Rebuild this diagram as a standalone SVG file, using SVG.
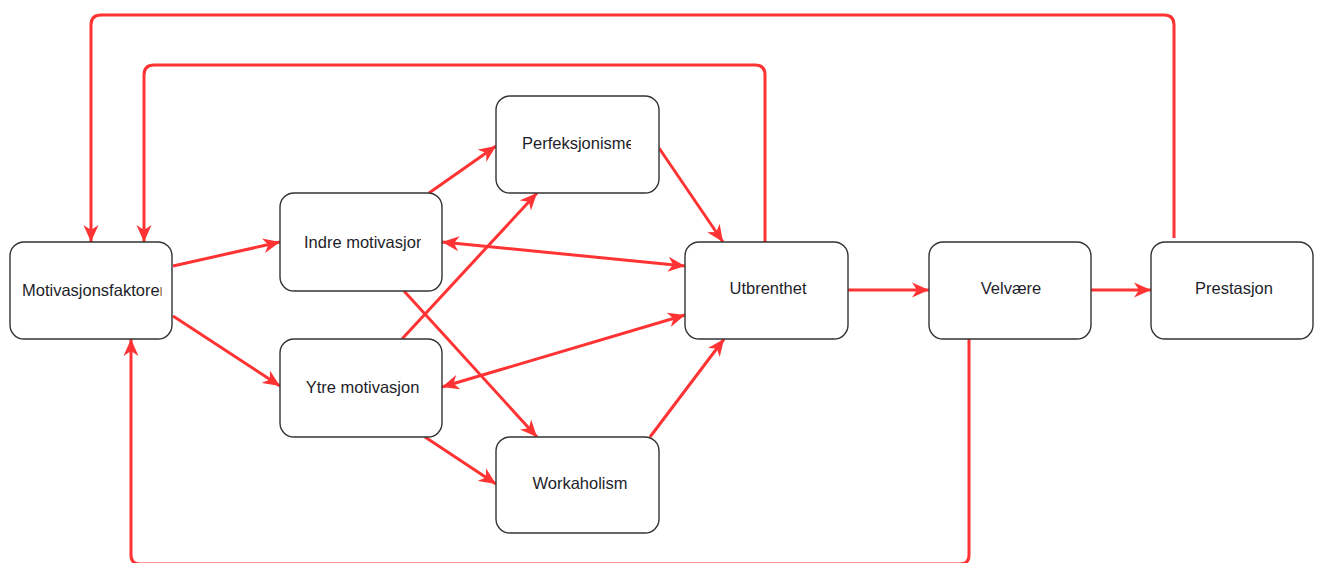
<svg xmlns="http://www.w3.org/2000/svg" width="1317" height="563" viewBox="0 0 1317 563">
  <style>
    .box { fill: #ffffff; stroke: #333333; stroke-width: 1.4; }
    .lbl { font-family: "Liberation Sans", Arial, sans-serif; font-size: 16.5px; fill: #1e1e2a; }
    .c { text-anchor: middle; }
    .edge { fill: none; stroke: #FF3333; stroke-width: 3; }
    .ea { marker-end: url(#ah); }
    .eb { marker-start: url(#ah); marker-end: url(#ah); }
  </style>
  <defs>
    <marker id="ah" markerUnits="userSpaceOnUse" markerWidth="18" markerHeight="16" refX="17" refY="8" orient="auto-start-reverse" viewBox="0 0 18 16">
      <path d="M17,8 L0,0.5 L5,8 L0,15.5 Z" fill="#FF3333"/>
    </marker>
    <clipPath id="clipMotiv"><rect x="10" y="242" width="151.5" height="97"/></clipPath>
    <clipPath id="clipIndre"><rect x="280" y="193" width="141" height="98"/></clipPath>
    <clipPath id="clipPerf"><rect x="496" y="96" width="135" height="97"/></clipPath>
  </defs>

  <rect width="1317" height="563" fill="#ffffff"/>

  <g id="connectors">
    <path class="edge" d="M1174,238 V25 Q1174,15 1164,15 H101 Q91,15 91,25 V242" marker-end="url(#ah)"/>
    <path class="edge" d="M765,242 V75 Q765,65 755,65 H154 Q144,65 144,75 V242" marker-end="url(#ah)"/>
    <path class="edge" d="M969,339 V555 Q969,564 960,564 H140 Q131,564 131,555 V339" marker-end="url(#ah)"/>
    <path class="edge ea" d="M173,266 L280,242"/>
    <path class="edge ea" d="M173,316 L280,386"/>
    <path class="edge ea" d="M429,193 L496,146"/>
    <path class="edge ea" d="M402,339 L537,193"/>
    <path class="edge eb" d="M442,242 L685,266"/>
    <path class="edge eb" d="M442,387 L685,315"/>
    <path class="edge ea" d="M404,291 L537,437"/>
    <path class="edge ea" d="M425,437 L496,484"/>
    <path class="edge ea" d="M659,148 L723,242"/>
    <path class="edge ea" d="M650,437 L724,339"/>
    <path class="edge ea" d="M848,290 L929,290"/>
    <path class="edge ea" d="M1091,290 L1151,290"/>
  </g>

  <g id="node-motivasjonsfaktorer">
    <rect class="box" x="10" y="242" width="162" height="97" rx="14"/>
    <text class="lbl" x="22" y="296" clip-path="url(#clipMotiv)">Motivasjonsfaktorer</text>
  </g>
  <g id="node-indre">
    <rect class="box" x="280" y="193" width="162" height="98" rx="14"/>
    <text class="lbl" x="304" y="248" clip-path="url(#clipIndre)">Indre motivasjon</text>
  </g>
  <g id="node-perfeksjonisme">
    <rect class="box" x="496" y="96" width="163" height="97" rx="14"/>
    <text class="lbl" x="522" y="149" clip-path="url(#clipPerf)">Perfeksjonisme</text>
  </g>
  <g id="node-ytre">
    <rect class="box" x="280" y="339" width="162" height="98" rx="14"/>
    <text class="lbl c" x="362.5" y="393">Ytre motivasjon</text>
  </g>
  <g id="node-workaholism">
    <rect class="box" x="496" y="437" width="163" height="96" rx="14"/>
    <text class="lbl c" x="580" y="489">Workaholism</text>
  </g>
  <g id="node-utbrenthet">
    <rect class="box" x="685" y="242" width="163" height="97" rx="14"/>
    <text class="lbl c" x="768" y="294">Utbrenthet</text>
  </g>
  <g id="node-velvaere">
    <rect class="box" x="929" y="242" width="162" height="97" rx="14"/>
    <text class="lbl c" x="1011" y="294">Velvære</text>
  </g>
  <g id="node-prestasjon">
    <rect class="box" x="1151" y="242" width="162" height="97" rx="14"/>
    <text class="lbl c" x="1234" y="294">Prestasjon</text>
  </g>
</svg>
